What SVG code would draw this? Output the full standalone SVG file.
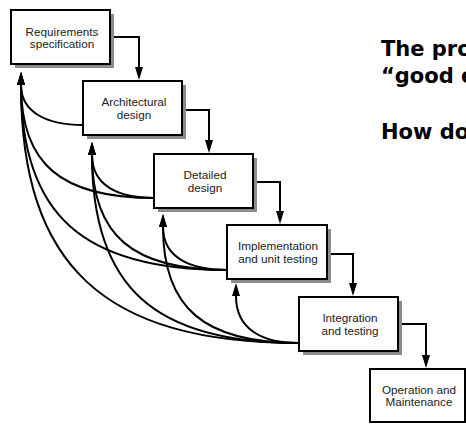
<svg xmlns="http://www.w3.org/2000/svg" width="466" height="424" viewBox="0 0 466 424">
<defs>
<marker id="ah" viewBox="0 0 13 8" refX="0" refY="4" markerWidth="13" markerHeight="8" markerUnits="userSpaceOnUse" orient="auto">
<path d="M0,0 L13,4 L0,8 z" fill="#000"/>
</marker>
<style>
.box{fill:#fff;stroke:#000;stroke-width:2}
.sh{fill:#8c8c8c}
.lbl{font-family:"Liberation Sans",Arial,sans-serif;font-size:11.7px;fill:#222;text-anchor:middle}
.flow{fill:none;stroke:#000;stroke-width:2;marker-end:url(#ah)}
.fb{fill:none;stroke:#000;stroke-width:2;marker-end:url(#ah)}
.big{font-family:"DejaVu Sans",sans-serif;font-weight:bold;font-size:21px;fill:#000}
</style>
</defs>
<rect width="466" height="424" fill="#fff"/>

<g id="connectors">
<path class="flow" d="M110,37 H139 V67"/>
<path class="flow" d="M182,110 H209 V140"/>
<path class="flow" d="M253,182 H280 V211"/>
<path class="flow" d="M327,254 H353 V283"/>
<path class="flow" d="M398,324 H426 V355"/>

<path class="fb" d="M83,125 C48,125 21,113 21,85"/>
<path class="fb" d="M154,198 C61,198 21,164 21,85"/>
<path class="fb" d="M227,270 C83,270 21,215 21,85"/>
<path class="fb" d="M299,343 C104,343 21,266 21,85"/>
<path class="fb" d="M154,198 C119,198 92,186 92,155"/>
<path class="fb" d="M227,270 C133,270 92,236 92,155"/>
<path class="fb" d="M299,343 C154,343 92,287 92,155"/>
<path class="fb" d="M227,270 C191,270 163,258 163,227"/>
<path class="fb" d="M299,343 C204,343 163,308 163,227"/>
<path class="fb" d="M299,343 C263,343 236,330 236,296"/>
</g>

<g id="n1">
<rect class="sh" x="15" y="14" width="99" height="54"/>
<rect class="box" x="11" y="10" width="99" height="54"/>
<text class="lbl" x="62" y="35.5">Requirements</text>
<text class="lbl" x="62" y="48">specification</text>
</g>
<g id="n2">
<rect class="sh" x="87" y="85" width="99" height="54"/>
<rect class="box" x="83" y="81" width="99" height="54"/>
<text class="lbl" x="134" y="106">Architectural</text>
<text class="lbl" x="134" y="118.5">design</text>
</g>
<g id="n3">
<rect class="sh" x="158" y="158" width="99" height="54"/>
<rect class="box" x="154" y="154" width="99" height="54"/>
<text class="lbl" x="205" y="179">Detailed</text>
<text class="lbl" x="205" y="191.5">design</text>
</g>
<g id="n4">
<rect class="sh" x="231" y="229" width="100" height="54"/>
<rect class="box" x="227" y="225" width="100" height="54"/>
<text class="lbl" x="278" y="250">Implementation</text>
<text class="lbl" x="278" y="262.5">and unit testing</text>
</g>
<g id="n5">
<rect class="sh" x="303" y="301" width="99" height="54"/>
<rect class="box" x="299" y="297" width="99" height="54"/>
<text class="lbl" x="350" y="322">Integration</text>
<text class="lbl" x="350" y="334.5">and testing</text>
</g>
<g id="n6">
<rect class="box" x="370" y="369" width="95" height="53"/>
<text class="lbl" x="419" y="393.5">Operation and</text>
<text class="lbl" x="419" y="406">Maintenance</text>
</g>

<g id="notes">
<text class="big" x="381" y="56">The pro</text>
<text class="big" x="381" y="83">“good e</text>
<text class="big" x="381" y="139">How do</text>
</g>
</svg>
